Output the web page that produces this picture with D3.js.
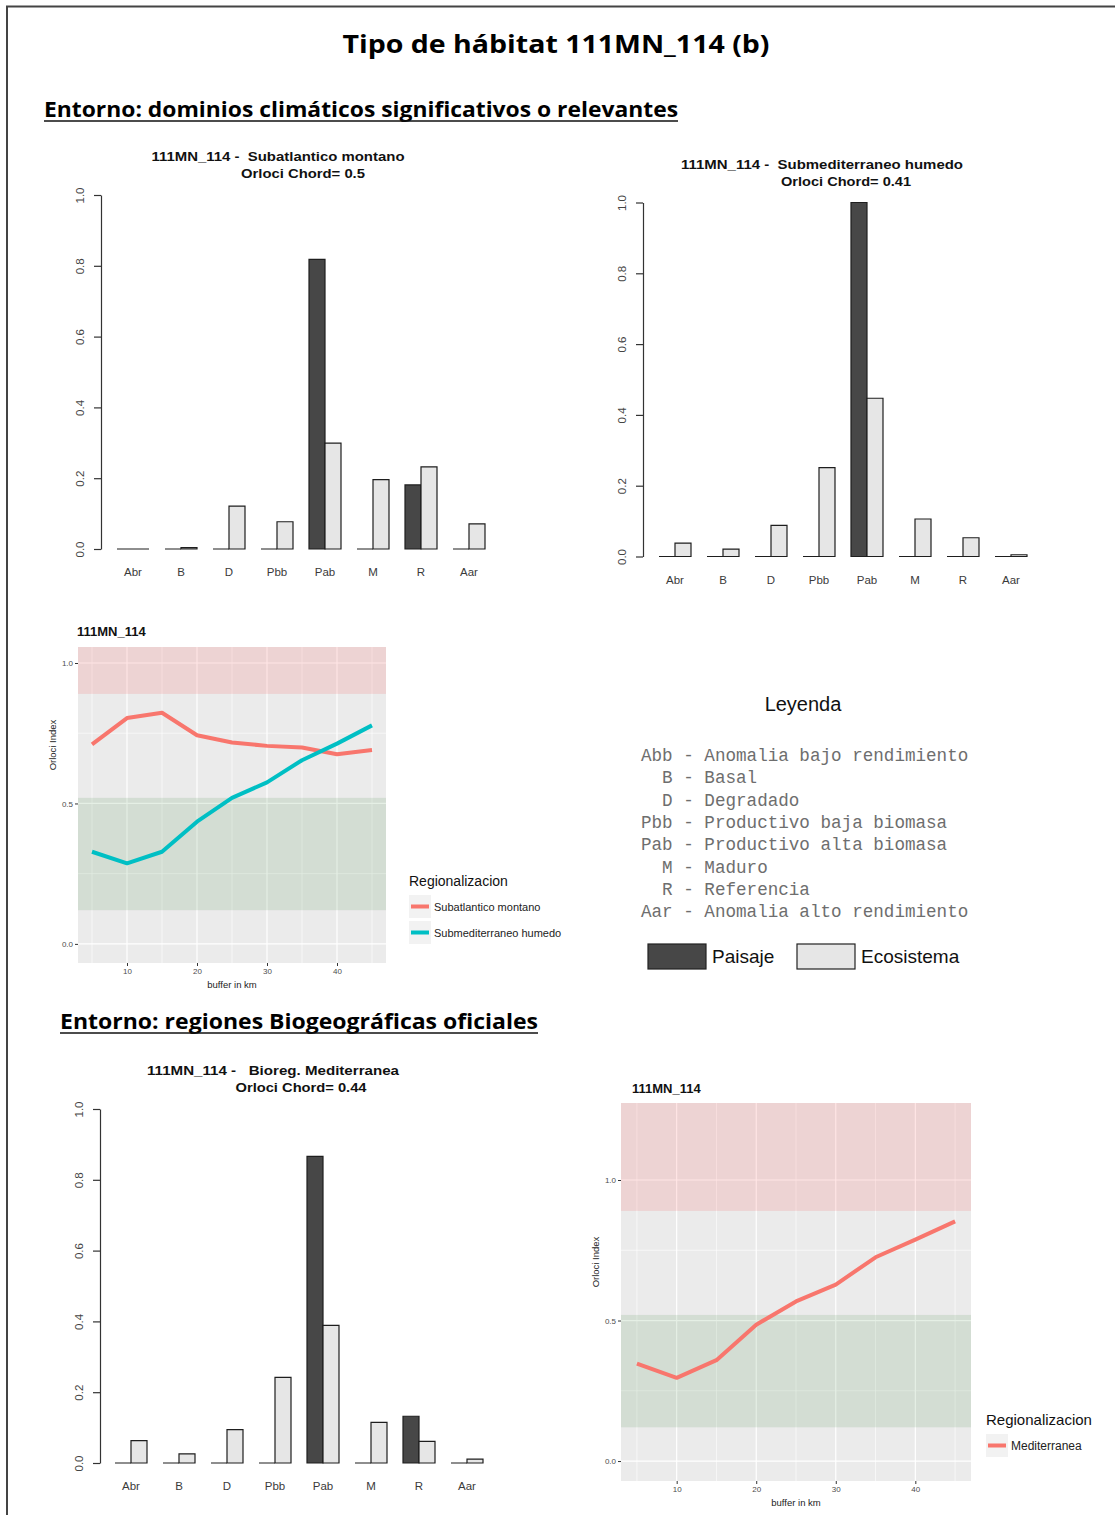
<!DOCTYPE html>
<html>
<head>
<meta charset="utf-8">
<script src="https://cdn.jsdelivr.net/npm/d3@7"></script>
<style>
  body { margin: 0; background: #fff; }
  svg { display: block; }
</style>
</head>
<body>
<svg id="page" width="1115" height="1515"></svg>
<script>
// ---- data -------------------------------------------------------------
const categories = ["Abr", "B", "D", "Pbb", "Pab", "M", "R", "Aar"];
const seriesNames = ["Paisaje", "Ecosistema"];

const subatlPaisaje    = [0, 0, 0, 0, 0.818, 0, 0.181, 0];
const subatlEcosistema = [0, 0.004, 0.121, 0.077, 0.299, 0.196, 0.232, 0.071];
const submedPaisaje    = [0, 0, 0, 0, 1.0, 0, 0, 0];
const submedEcosistema = [0.038, 0.021, 0.088, 0.251, 0.447, 0.106, 0.053, 0.005];
const medPaisaje       = [0, 0, 0, 0, 0.866, 0, 0.132, 0];
const medEcosistema    = [0.063, 0.026, 0.094, 0.242, 0.389, 0.115, 0.061, 0.011];
const barTicks = [0, 0.2, 0.4, 0.6, 0.8, 1.0];

const bufferKm     = [5, 10, 15, 20, 25, 30, 35, 40, 45];
const orlociSubatl = [0.710, 0.804, 0.823, 0.743, 0.717, 0.705, 0.699, 0.675, 0.690];
const orlociSubmed = [0.328, 0.287, 0.328, 0.435, 0.520, 0.575, 0.654, 0.713, 0.778];
const orlociMed    = [0.347, 0.296, 0.359, 0.485, 0.568, 0.628, 0.725, 0.788, 0.853];
const lineTicksY = [0, 0.5, 1.0];
const lineMinorY = [0.25, 0.75];
const lineTicksX = [10, 20, 30, 40];
const lineMinorX = [5, 15, 25, 35, 45];
const bandLow  = [0.89, 0.12];
const bandHigh = [Infinity, 0.52];
const bandColors = ["red", "darkgreen"];

const legendCodes = ["Abb", "B", "D", "Pbb", "Pab", "M", "R", "Aar"];
const legendNames = ["Anomalia bajo rendimiento", "Basal", "Degradado",
  "Productivo baja biomasa", "Productivo alta biomasa", "Maduro",
  "Referencia", "Anomalia alto rendimiento"];

// ---- styles -----------------------------------------------------------
const barFill = { Paisaje: "#474747", Ecosistema: "#e6e6e6" };
const SANS = "'Liberation Sans', Arial, sans-serif";
const HEAD = "'Open Sans', 'Noto Sans', sans-serif";
const MONO = "'Liberation Mono', 'Courier New', monospace";

const svg = d3.select("#page");

// page frame (left and top rules)
svg.append("path")
  .attr("d", "M7,1515V6.5H1115")
  .attr("fill", "none").attr("stroke", "#444").attr("stroke-width", 2);

// headings
svg.append("text")
  .attr("x", 556).attr("y", 53).attr("text-anchor", "middle")
  .attr("font-family", HEAD).attr("font-weight", 700).attr("font-size", 25)
  .attr("textLength", 427).attr("lengthAdjust", "spacingAndGlyphs")
  .text("Tipo de hábitat 111MN_114 (b)");

function sectionHeading(x, y, width, label) {
  svg.append("text")
    .attr("x", x).attr("y", y)
    .attr("font-family", HEAD).attr("font-weight", 700).attr("font-size", 21)
    .attr("textLength", width).attr("lengthAdjust", "spacingAndGlyphs")
    .text(label);
  svg.append("line")
    .attr("x1", x).attr("x2", x + width).attr("y1", y + 4).attr("y2", y + 4)
    .attr("stroke", "#111").attr("stroke-width", 1.6);
}
sectionHeading(44, 117, 634, "Entorno: dominios climáticos significativos o relevantes");
sectionHeading(60, 1029, 478, "Entorno: regiones Biogeográficas oficiales");

// ---- grouped bar charts (base-graphics look) --------------------------
function barChart(cfg) {
  const g = svg.append("g");
  const y = d3.scaleLinear().domain([0, 1]).range([cfg.zeroY, cfg.oneY]);
  const x0 = d3.scaleBand().domain(categories)
    .range([cfg.startX, cfg.startX + 400]).paddingInner(1 / 3).paddingOuter(1 / 3);
  const x1 = d3.scaleBand().domain(seriesNames).range([0, x0.bandwidth()]);

  const rows = categories.map((c, i) => ({
    cat: c,
    vals: [{ s: "Paisaje", v: cfg.paisaje[i] }, { s: "Ecosistema", v: cfg.ecosistema[i] }]
  }));

  const grp = g.selectAll("g.grp").data(rows).join("g")
    .attr("transform", d => `translate(${x0(d.cat)},0)`);
  grp.selectAll("path").data(d => d.vals).join("path")
    .attr("d", d => {
      const xa = x1(d.s), xb = xa + x1.bandwidth();
      return `M${xa},${y(0)}V${y(d.v)}H${xb}V${y(0)}Z`;
    })
    .attr("fill", d => barFill[d.s])
    .attr("stroke", "#1e1e1e").attr("stroke-width", 1.2);

  // category labels
  g.selectAll("text.cat").data(categories).join("text")
    .attr("x", d => x0(d) + x0.bandwidth() / 2).attr("y", cfg.zeroY + 27)
    .attr("text-anchor", "middle").attr("font-family", SANS).attr("font-size", 11.5)
    .attr("fill", "#3a3a3a").text(d => d);

  // y axis
  const ax = g.append("g").attr("transform", `translate(${cfg.axisX},0)`)
    .call(d3.axisLeft(y).tickValues(barTicks).tickFormat(d3.format(".1f"))
      .tickSize(7).tickSizeOuter(0));
  ax.select(".domain").attr("stroke", "#333").attr("stroke-width", 1.2);
  ax.selectAll(".tick line").attr("stroke", "#333").attr("stroke-width", 1.2);
  ax.selectAll(".tick text")
    .attr("transform", "rotate(-90)").attr("x", 0).attr("y", -17).attr("dy", 0)
    .attr("text-anchor", "middle").attr("font-family", SANS).attr("font-size", 11.5)
    .attr("fill", "#444");

  // two-line title
  g.append("text").attr("x", cfg.t1x).attr("y", cfg.t1y).attr("text-anchor", "middle")
    .attr("font-family", SANS).attr("font-weight", 700).attr("font-size", 13)
    .attr("textLength", cfg.t1w).attr("lengthAdjust", "spacingAndGlyphs")
    .attr("fill", "#111").style("white-space", "pre").text(cfg.title1);
  g.append("text").attr("x", cfg.t2x).attr("y", cfg.t1y + 17).attr("text-anchor", "middle")
    .attr("font-family", SANS).attr("font-weight", 700).attr("font-size", 13)
    .attr("textLength", cfg.t2w).attr("lengthAdjust", "spacingAndGlyphs")
    .attr("fill", "#111").text(cfg.title2);
}

barChart({ axisX: 101, startX: 101, zeroY: 549, oneY: 195,
  paisaje: subatlPaisaje, ecosistema: subatlEcosistema,
  title1: "111MN_114 -  Subatlantico montano", t1x: 278, t1y: 161, t1w: 253,
  title2: "Orloci Chord= 0.5", t2x: 303, t2w: 124 });
barChart({ axisX: 643, startX: 643, zeroY: 556.5, oneY: 202.5,
  paisaje: submedPaisaje, ecosistema: submedEcosistema,
  title1: "111MN_114 -  Submediterraneo humedo", t1x: 822, t1y: 169, t1w: 282,
  title2: "Orloci Chord= 0.41", t2x: 846, t2w: 130 });
barChart({ axisX: 100, startX: 99, zeroY: 1463, oneY: 1109,
  paisaje: medPaisaje, ecosistema: medEcosistema,
  title1: "111MN_114 -   Bioreg. Mediterranea", t1x: 273, t1y: 1075, t1w: 252,
  title2: "Orloci Chord= 0.44", t2x: 301, t2w: 131 });

// ---- Orloci index line charts (ggplot look) ---------------------------
function lineChart(cfg) {
  const g = svg.append("g");
  const x = d3.scaleLinear().domain([3, 47]).range([cfg.left, cfg.right]);
  const y = d3.scaleLinear().domain(cfg.yDomain).range([cfg.bottom, cfg.top]);

  g.append("rect").attr("x", cfg.left).attr("y", cfg.top)
    .attr("width", cfg.right - cfg.left).attr("height", cfg.bottom - cfg.top)
    .attr("fill", "#ebebeb");

  // grid
  g.selectAll("line.minx").data(lineMinorX).join("line")
    .attr("x1", d => x(d)).attr("x2", d => x(d)).attr("y1", cfg.top).attr("y2", cfg.bottom)
    .attr("stroke", "#fff").attr("stroke-width", 0.6);
  g.selectAll("line.miny").data(lineMinorY).join("line")
    .attr("y1", d => y(d)).attr("y2", d => y(d)).attr("x1", cfg.left).attr("x2", cfg.right)
    .attr("stroke", "#fff").attr("stroke-width", 0.6);
  g.selectAll("line.majx").data(lineTicksX).join("line")
    .attr("x1", d => x(d)).attr("x2", d => x(d)).attr("y1", cfg.top).attr("y2", cfg.bottom)
    .attr("stroke", "#fff").attr("stroke-width", 1.2);
  g.selectAll("line.majy").data(lineTicksY).join("line")
    .attr("y1", d => y(d)).attr("y2", d => y(d)).attr("x1", cfg.left).attr("x2", cfg.right)
    .attr("stroke", "#fff").attr("stroke-width", 1.2);

  // reference bands
  const bands = bandLow.map((lo, i) => ({ lo, hi: bandHigh[i], color: bandColors[i] }));
  g.selectAll("rect.band").data(bands).join("rect")
    .attr("x", cfg.left).attr("width", cfg.right - cfg.left)
    .attr("y", d => y(Math.min(d.hi, cfg.yDomain[1])))
    .attr("height", d => y(d.lo) - y(Math.min(d.hi, cfg.yDomain[1])))
    .attr("fill", d => d.color).attr("fill-opacity", 0.1);

  // series
  const line = d3.line().x((d, i) => x(bufferKm[i])).y(d => y(d));
  cfg.series.forEach(s => {
    g.append("path").datum(s.values).attr("d", line)
      .attr("fill", "none").attr("stroke", s.color).attr("stroke-width", 4)
      .attr("stroke-linejoin", "round");
  });

  // axes
  const ay = g.append("g").attr("transform", `translate(${cfg.left},0)`)
    .call(d3.axisLeft(y).tickValues(lineTicksY).tickFormat(d3.format(".1f"))
      .tickSize(3).tickPadding(2).tickSizeOuter(0));
  ay.select(".domain").remove();
  ay.selectAll(".tick line").attr("stroke", "#333");
  ay.selectAll(".tick text").attr("font-family", SANS).attr("font-size", 8).attr("fill", "#4d4d4d");

  const axb = g.append("g").attr("transform", `translate(0,${cfg.bottom})`)
    .call(d3.axisBottom(x).tickValues(lineTicksX).tickFormat(d3.format("d"))
      .tickSize(3).tickPadding(2).tickSizeOuter(0));
  axb.select(".domain").remove();
  axb.selectAll(".tick line").attr("stroke", "#333");
  axb.selectAll(".tick text").attr("font-family", SANS).attr("font-size", 8).attr("fill", "#4d4d4d");

  // titles
  g.append("text").attr("x", (cfg.left + cfg.right) / 2).attr("y", cfg.bottom + 25)
    .attr("text-anchor", "middle").attr("font-family", SANS).attr("font-size", 9.5)
    .attr("fill", "#222").text("buffer in km");
  g.append("text")
    .attr("transform", `translate(${cfg.yTitleX},${cfg.yTitleY}) rotate(-90)`)
    .attr("text-anchor", "middle").attr("font-family", SANS).attr("font-size", 9.5)
    .attr("fill", "#222").text("Orloci Index");
  g.append("text").attr("x", cfg.titleX).attr("y", cfg.titleY)
    .attr("font-family", SANS).attr("font-weight", 700).attr("font-size", 13)
    .attr("fill", "#111").text("111MN_114");

  // legend
  const lg = g.append("g").attr("transform", `translate(${cfg.legX},${cfg.legY})`);
  lg.append("text").attr("x", 0).attr("y", 0)
    .attr("font-family", SANS).attr("font-size", cfg.legTitleSize).attr("fill", "#111")
    .text("Regionalizacion");
  const key = lg.selectAll("g.key").data(cfg.series).join("g")
    .attr("transform", (d, i) => `translate(0,${9 + i * 26})`);
  key.append("rect").attr("width", 22).attr("height", 23).attr("fill", "#f2f2f2");
  key.append("line").attr("x1", 2).attr("x2", 20).attr("y1", 11.5).attr("y2", 11.5)
    .attr("stroke", d => d.color).attr("stroke-width", 4);
  key.append("text").attr("x", 25).attr("y", 15.5)
    .attr("font-family", SANS).attr("font-size", cfg.legLabelSize).attr("fill", "#222")
    .text(d => d.name);
}

lineChart({ left: 78, right: 386, top: 647, bottom: 963, yDomain: [-0.068, 1.057],
  series: [
    { name: "Subatlantico montano", values: orlociSubatl, color: "#F8766D" },
    { name: "Submediterraneo humedo", values: orlociSubmed, color: "#00BFC4" }
  ],
  titleX: 77, titleY: 636, yTitleX: 56, yTitleY: 745,
  legX: 409, legY: 886, legTitleSize: 14, legLabelSize: 11 });

lineChart({ left: 621, right: 971, top: 1103, bottom: 1481, yDomain: [-0.071, 1.274],
  series: [
    { name: "Mediterranea", values: orlociMed, color: "#F8766D" }
  ],
  titleX: 632, titleY: 1093, yTitleX: 599, yTitleY: 1262,
  legX: 986, legY: 1425, legTitleSize: 15, legLabelSize: 12 });

// ---- key to the categories ---------------------------------------------
const leg = svg.append("g");
leg.append("text").attr("x", 803).attr("y", 711).attr("text-anchor", "middle")
  .attr("font-family", SANS).attr("font-size", 20).attr("fill", "#111").text("Leyenda");

const codeW = d3.max(legendCodes, d => d.length);
leg.selectAll("text.code").data(legendCodes).join("text")
  .attr("x", 641).attr("y", (d, i) => 761 + i * 22.3)
  .attr("font-family", MONO).attr("font-size", 17.6).attr("fill", "#6e6e6e")
  .style("white-space", "pre")
  .text((d, i) => d.padStart(codeW, " ") + " - " + legendNames[i]);

const sw = leg.selectAll("g.sw").data(seriesNames).join("g")
  .attr("transform", (d, i) => `translate(${648 + i * 149},944)`);
sw.append("rect").attr("width", 58).attr("height", 25)
  .attr("fill", d => barFill[d]).attr("stroke", "#222").attr("stroke-width", 1.2);
sw.append("text").attr("x", 64).attr("y", 19)
  .attr("font-family", SANS).attr("font-size", 19).attr("fill", "#111").text(d => d);
</script>
</body>
</html>
